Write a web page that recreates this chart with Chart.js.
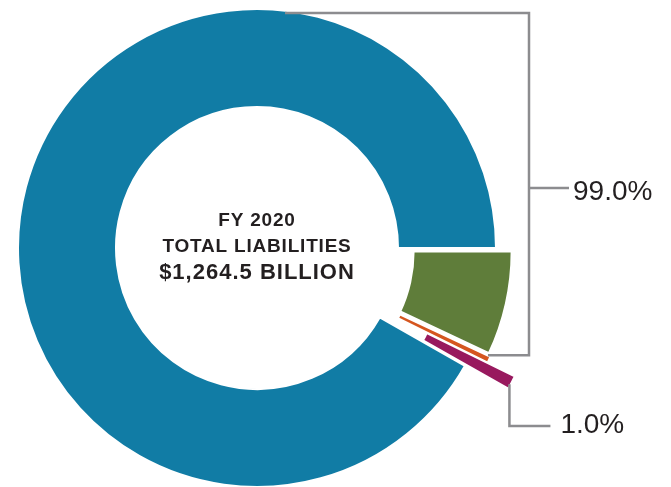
<!DOCTYPE html>
<html>
<head>
<meta charset="utf-8">
<script src="https://cdn.jsdelivr.net/npm/chart.js@4.4.1/dist/chart.umd.min.js"></script>
<style>
  html, body { margin: 0; padding: 0; background: #ffffff; }
  #wrap { position: relative; width: 671px; height: 487px; }
</style>
</head>
<body>
<div id="wrap"><canvas id="c"></canvas></div>
<script>
// ---- data (shares of total liabilities, % of the circle) ----
// listed in the order the slices are drawn, clockwise, starting with the magenta slice
const categories = ['Liability group D', 'Liability group A', 'Liability group B', 'Liability group C'];
const shares = [0.92, 91.80, 7.00, 0.28];
const centerLines = ['FY 2020', 'TOTAL LIABILITIES', '$1,264.5 BILLION'];
const bracketLabels = ['99.0%', '1.0%'];

// ---- styles ----
const sliceColors = ['#98195E', '#117CA5', '#5F7D3A', '#D5561F'];
const sliceExplode = [49, 0, 16, 17.5];   // px the slice is pulled out along its mid-angle
const sliceBorders = [2, 2, 2, 0];

const total = shares.reduce((a, b) => a + b, 0);
// start the magenta slice right after the green and orange ones so that green begins at 3 o'clock
const startDeg = 90 + 360 * (shares[2] + shares[3]) / total;

const explode = {
  id: 'explode',
  afterDatasetUpdate(chart, args) {
    const meta = chart.getDatasetMeta(args.index);
    meta.data.forEach((arc, i) => {
      const d = sliceExplode[i] || 0;
      if (!d) return;
      const mid = (arc.startAngle + arc.endAngle) / 2;
      arc.x += Math.cos(mid) * d;
      arc.y += Math.sin(mid) * d;
    });
  }
};

const annotations = {
  id: 'annotations',
  afterDatasetsDraw(chart) {
    const ctx = chart.ctx;
    const meta = chart.getDatasetMeta(0);
    const geo = (i) => {
      const a = meta.data[i];
      return { x: a.x, y: a.y, s: a.startAngle, e: a.endAngle, r: a.outerRadius, ri: a.innerRadius, bw: a.options.borderWidth || 0 };
    };
    const pt = (g, ang, r) => [g.x + Math.cos(ang) * r, g.y + Math.sin(ang) * r];

    const main = geo(1);
    const cx = main.x, cy = main.y, R = main.r;

    ctx.save();
    ctx.strokeStyle = '#8C8C8F';
    ctx.lineWidth = 2.5;
    ctx.lineCap = 'butt';
    ctx.lineJoin = 'miter';

    // bracket for the 99.0 % group (blue + green)
    const green = geo(2);
    const gc = pt(green, green.e, green.r - green.bw / 2);
    const bx = cx + R + 33;
    const topY = cy - R + 4;
    const botY = gc[1] + 2.5;
    ctx.beginPath();
    ctx.moveTo(cx + 28, topY);
    ctx.lineTo(bx, topY);
    ctx.lineTo(bx, botY);
    ctx.lineTo(gc[0], botY);
    ctx.stroke();
    const tickY = cy - 60;
    ctx.beginPath();
    ctx.moveTo(bx, tickY);
    ctx.lineTo(bx + 40, tickY);
    ctx.stroke();

    // bracket for the 1.0 % group (orange + magenta)
    const mag = geo(0);
    const mc = pt(mag, mag.e, mag.r - mag.bw / 2);
    const vx = mc[0] + 2;
    const y2 = cy + 178;
    ctx.beginPath();
    ctx.moveTo(vx, mc[1] - 4);
    ctx.lineTo(vx, y2);
    ctx.lineTo(vx + 41, y2);
    ctx.stroke();

    ctx.fillStyle = '#231F20';
    ctx.textAlign = 'left';
    ctx.textBaseline = 'alphabetic';
    ctx.font = '28px "Liberation Sans", Arial, sans-serif';
    ctx.fillText(bracketLabels[0], bx + 44, tickY + 12);
    ctx.fillText(bracketLabels[1], vx + 51, y2 + 7);

    // centre text
    ctx.textAlign = 'center';
    ctx.font = 'bold 19px "Liberation Sans", Arial, sans-serif';
    try { ctx.letterSpacing = '0.8px'; } catch (e) {}
    ctx.fillText(centerLines[0], cx, cy - 22);
    ctx.fillText(centerLines[1], cx, cy + 4);
    ctx.font = 'bold 22px "Liberation Sans", Arial, sans-serif';
    try { ctx.letterSpacing = '1px'; } catch (e) {}
    ctx.fillText(centerLines[2], cx, cy + 31);
    ctx.restore();
  }
};

new Chart(document.getElementById('c'), {
  type: 'doughnut',
  data: {
    labels: categories,
    datasets: [{
      data: shares,
      backgroundColor: sliceColors,
      borderColor: '#ffffff',
      borderWidth: sliceBorders,
      hoverOffset: 0
    }]
  },
  options: {
    responsive: true,
    maintainAspectRatio: false,
    animation: false,
    events: [],
    rotation: startDeg,
    radius: 239,
    cutout: '59%',
    layout: { padding: { left: 0, right: 157, top: 9, bottom: 0 } },
    plugins: {
      legend: { display: false },
      tooltip: { enabled: false },
      title: { display: false }
    }
  },
  plugins: [explode, annotations]
});
</script>
</body>
</html>
